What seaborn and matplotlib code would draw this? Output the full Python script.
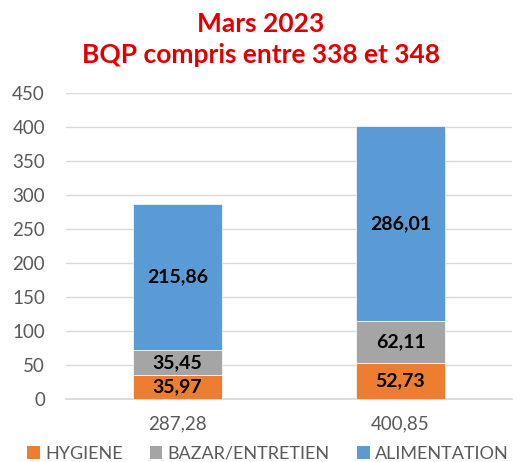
import matplotlib
matplotlib.use("Agg")
import matplotlib.pyplot as plt
import numpy as np
import pandas as pd
import seaborn as sns
from matplotlib.patches import Patch
from matplotlib.ticker import MultipleLocator

# données du graphique
categories = ["287,28", "400,85"]
series = ["HYGIENE", "BAZAR/ENTRETIEN", "ALIMENTATION"]
hygiene = [35.97, 52.73]
bazar = [35.45, 62.11]
alimentation = [215.86, 286.01]
colors = ["#ED7D31", "#A5A5A5", "#5B9BD5"]

sns.set_theme(style="white")
plt.rcParams["font.family"] = ["Lato", "DejaVu Sans"]

fig = plt.figure(figsize=(5.22, 4.62), dpi=100)
ax = fig.add_axes([0.126, 0.1364, 0.855, 0.6623])

values = [hygiene, bazar, alimentation]
bottom = np.zeros(len(categories))
for name, vals, col in zip(series, values, colors):
    df = pd.DataFrame({"cat": categories, "val": vals})
    sns.barplot(data=df, x="cat", y="val", color=col, width=0.4,
                bottom=bottom, ax=ax, saturation=1, zorder=3,
                edgecolor="white", linewidth=0.5)
    cont = ax.containers[-1]
    ax.bar_label(cont, labels=[f"{v:.2f}".replace(".", ",") for v in vals],
                 label_type="center", fontsize=14, fontweight="bold",
                 color="black")
    bottom = bottom + np.array(vals)

ax.set_ylim(0, 450)
ax.set_xlim(-0.5, 1.5)
ax.yaxis.set_major_locator(MultipleLocator(50))
ax.grid(axis="y", color="#D9D9D9", linewidth=1, zorder=0)
for s in ["top", "right", "left"]:
    ax.spines[s].set_visible(False)
ax.spines["bottom"].set_color("#D9D9D9")
ax.set_xlabel("")
ax.set_ylabel("")
ax.tick_params(axis="both", length=0, labelsize=13.5, colors="#595959")
ax.tick_params(axis="x", pad=12)
ax.tick_params(axis="y", pad=15)

fig.text(0.5, 0.948, "Mars 2023", ha="center", va="center",
         fontsize=19, fontweight="bold", color="#E00000")
fig.text(0.5, 0.882, "BQP compris entre 338 et 348", ha="center",
         va="center", fontsize=19, fontweight="bold", color="#E00000")

handles = [Patch(facecolor=c, edgecolor="none") for c in colors]
fig.legend(handles, series, loc="lower center", bbox_to_anchor=(0.513, -0.035),
           ncol=3, frameon=False, fontsize=13, handlelength=0.7,
           handleheight=0.7, handletextpad=0.3, columnspacing=1.5,
           labelcolor="#595959")

fig.savefig("out.png", dpi=100)
